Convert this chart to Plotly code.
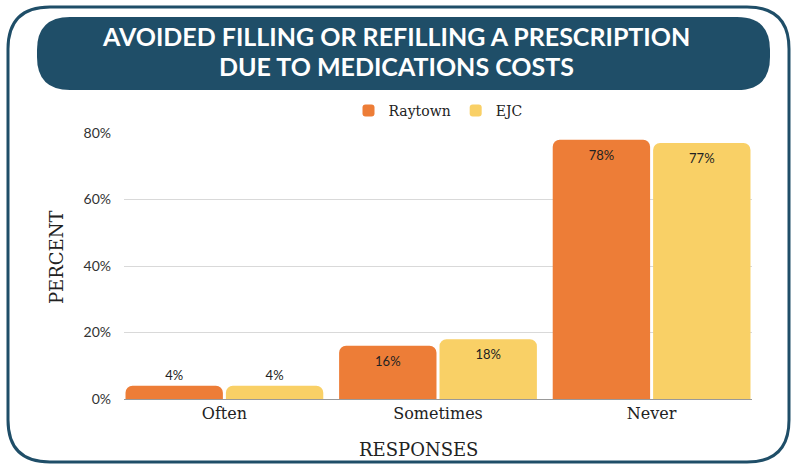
import plotly.graph_objects as go

categories = ["Often", "Sometimes", "Never"]
raytown = [4, 16, 78]
ejc = [4, 18, 77]
y_ticks = [0, 20, 40, 60, 80]
y_tick_labels = ["0%", "20%", "40%", "60%", "80%"]
title_lines = ["AVOIDED FILLING OR REFILLING A PRESCRIPTION", "DUE TO MEDICATIONS COSTS"]

W, H = 794, 466
L, R, T, B = 124, 42, 133, 67
PW, PH = W - L - R, H - T - B

NAVY = "#1F4E68"
ORANGE = "#ED7D37"
YELLOW = "#F9D066"


def px_x(x):
    return (x - L) / PW


def px_y(y):
    return (H - B - y) / PH


def rounded_path(x0, y0, x1, y1, r):
    # pixel rect -> paper path with rounded corners
    pts = [
        ("M", [(x0 + r, y0)]),
        ("L", [(x1 - r, y0)]),
        ("Q", [(x1, y0), (x1, y0 + r)]),
        ("L", [(x1, y1 - r)]),
        ("Q", [(x1, y1), (x1 - r, y1)]),
        ("L", [(x0 + r, y1)]),
        ("Q", [(x0, y1), (x0, y1 - r)]),
        ("L", [(x0, y0 + r)]),
        ("Q", [(x0, y0), (x0 + r, y0)]),
    ]
    out = []
    for cmd, ps in pts:
        out.append(cmd + " " + " ".join(f"{px_x(a):.5f},{px_y(b):.5f}" for a, b in ps))
    return " ".join(out) + " Z"


def labels(vals):
    return [f"{v}%" for v in vals]


def positions(vals):
    return ["outside" if v < 10 else "inside" for v in vals]


fig = go.Figure()
for name, vals, color in [("Raytown", raytown, ORANGE), ("EJC", ejc, YELLOW)]:
    fig.add_trace(go.Bar(
        x=categories, y=vals, name=name,
        marker=dict(color=color, cornerradius=7, line=dict(width=0)),
        text=labels(vals), textposition=positions(vals),
        insidetextanchor="end",
        textfont=dict(family="Lato", size=13, color="#222222"),
        outsidetextfont=dict(family="Lato", size=13, color="#222222"),
        insidetextfont=dict(family="Lato", size=13, color="#222222"),
        cliponaxis=False,
    ))

# outer frame and title banner
fig.add_shape(type="path", xref="paper", yref="paper",
              path=rounded_path(8, 7, 789, 462, 42),
              line=dict(color=NAVY, width=3), fillcolor="rgba(0,0,0,0)", layer="below")
fig.add_shape(type="path", xref="paper", yref="paper",
              path=rounded_path(37, 17, 770, 90, 33),
              line=dict(width=0), fillcolor=NAVY, layer="above")

for line, ypx in zip(title_lines, [36, 66]):
    fig.add_annotation(x=px_x(396), y=px_y(ypx), xref="paper", yref="paper",
                       xanchor="center", yanchor="middle",
                       text=line, showarrow=False,
                       font=dict(family="Lato", size=25, color="white", weight="bold"))
fig.add_annotation(x=px_x(56), y=px_y(258), xref="paper", yref="paper",
                   xanchor="center", yanchor="middle",
                   text="PERCENT", textangle=-90, showarrow=False,
                   font=dict(family="DejaVu Serif", size=18, color="#222222"))
fig.add_annotation(x=px_x(418), y=px_y(449), xref="paper", yref="paper",
                   xanchor="center", yanchor="middle",
                   text="RESPONSES", showarrow=False,
                   font=dict(family="DejaVu Serif", size=18, color="#222222"))

fig.update_layout(
    width=W, height=H,
    margin=dict(l=L, r=R, t=T, b=B),
    paper_bgcolor="white", plot_bgcolor="white",
    barmode="group", bargap=0.06, bargroupgap=0.03,
    showlegend=True,
    legend=dict(orientation="h", x=0.5, xanchor="center", y=px_y(111), yanchor="middle",
                font=dict(family="DejaVu Serif", size=14, color="#222222"),
                itemwidth=30, bgcolor="rgba(0,0,0,0)"),
    xaxis=dict(range=[-0.47, 2.47], showline=True, linecolor="#999999", linewidth=1,
               ticks="", tickfont=dict(family="DejaVu Serif", size=16, color="#222222")),
    yaxis=dict(range=[0, 80], tickvals=y_ticks, ticktext=y_tick_labels,
               showgrid=True, gridcolor="#D9D9D9", zeroline=False, ticks="",
               ticklabelstandoff=12,
               tickfont=dict(family="Lato", size=14, color="#333333")),
)

fig.write_html("out.html", config={"displayModeBar": False},
               post_script="document.body.style.margin='0';")
